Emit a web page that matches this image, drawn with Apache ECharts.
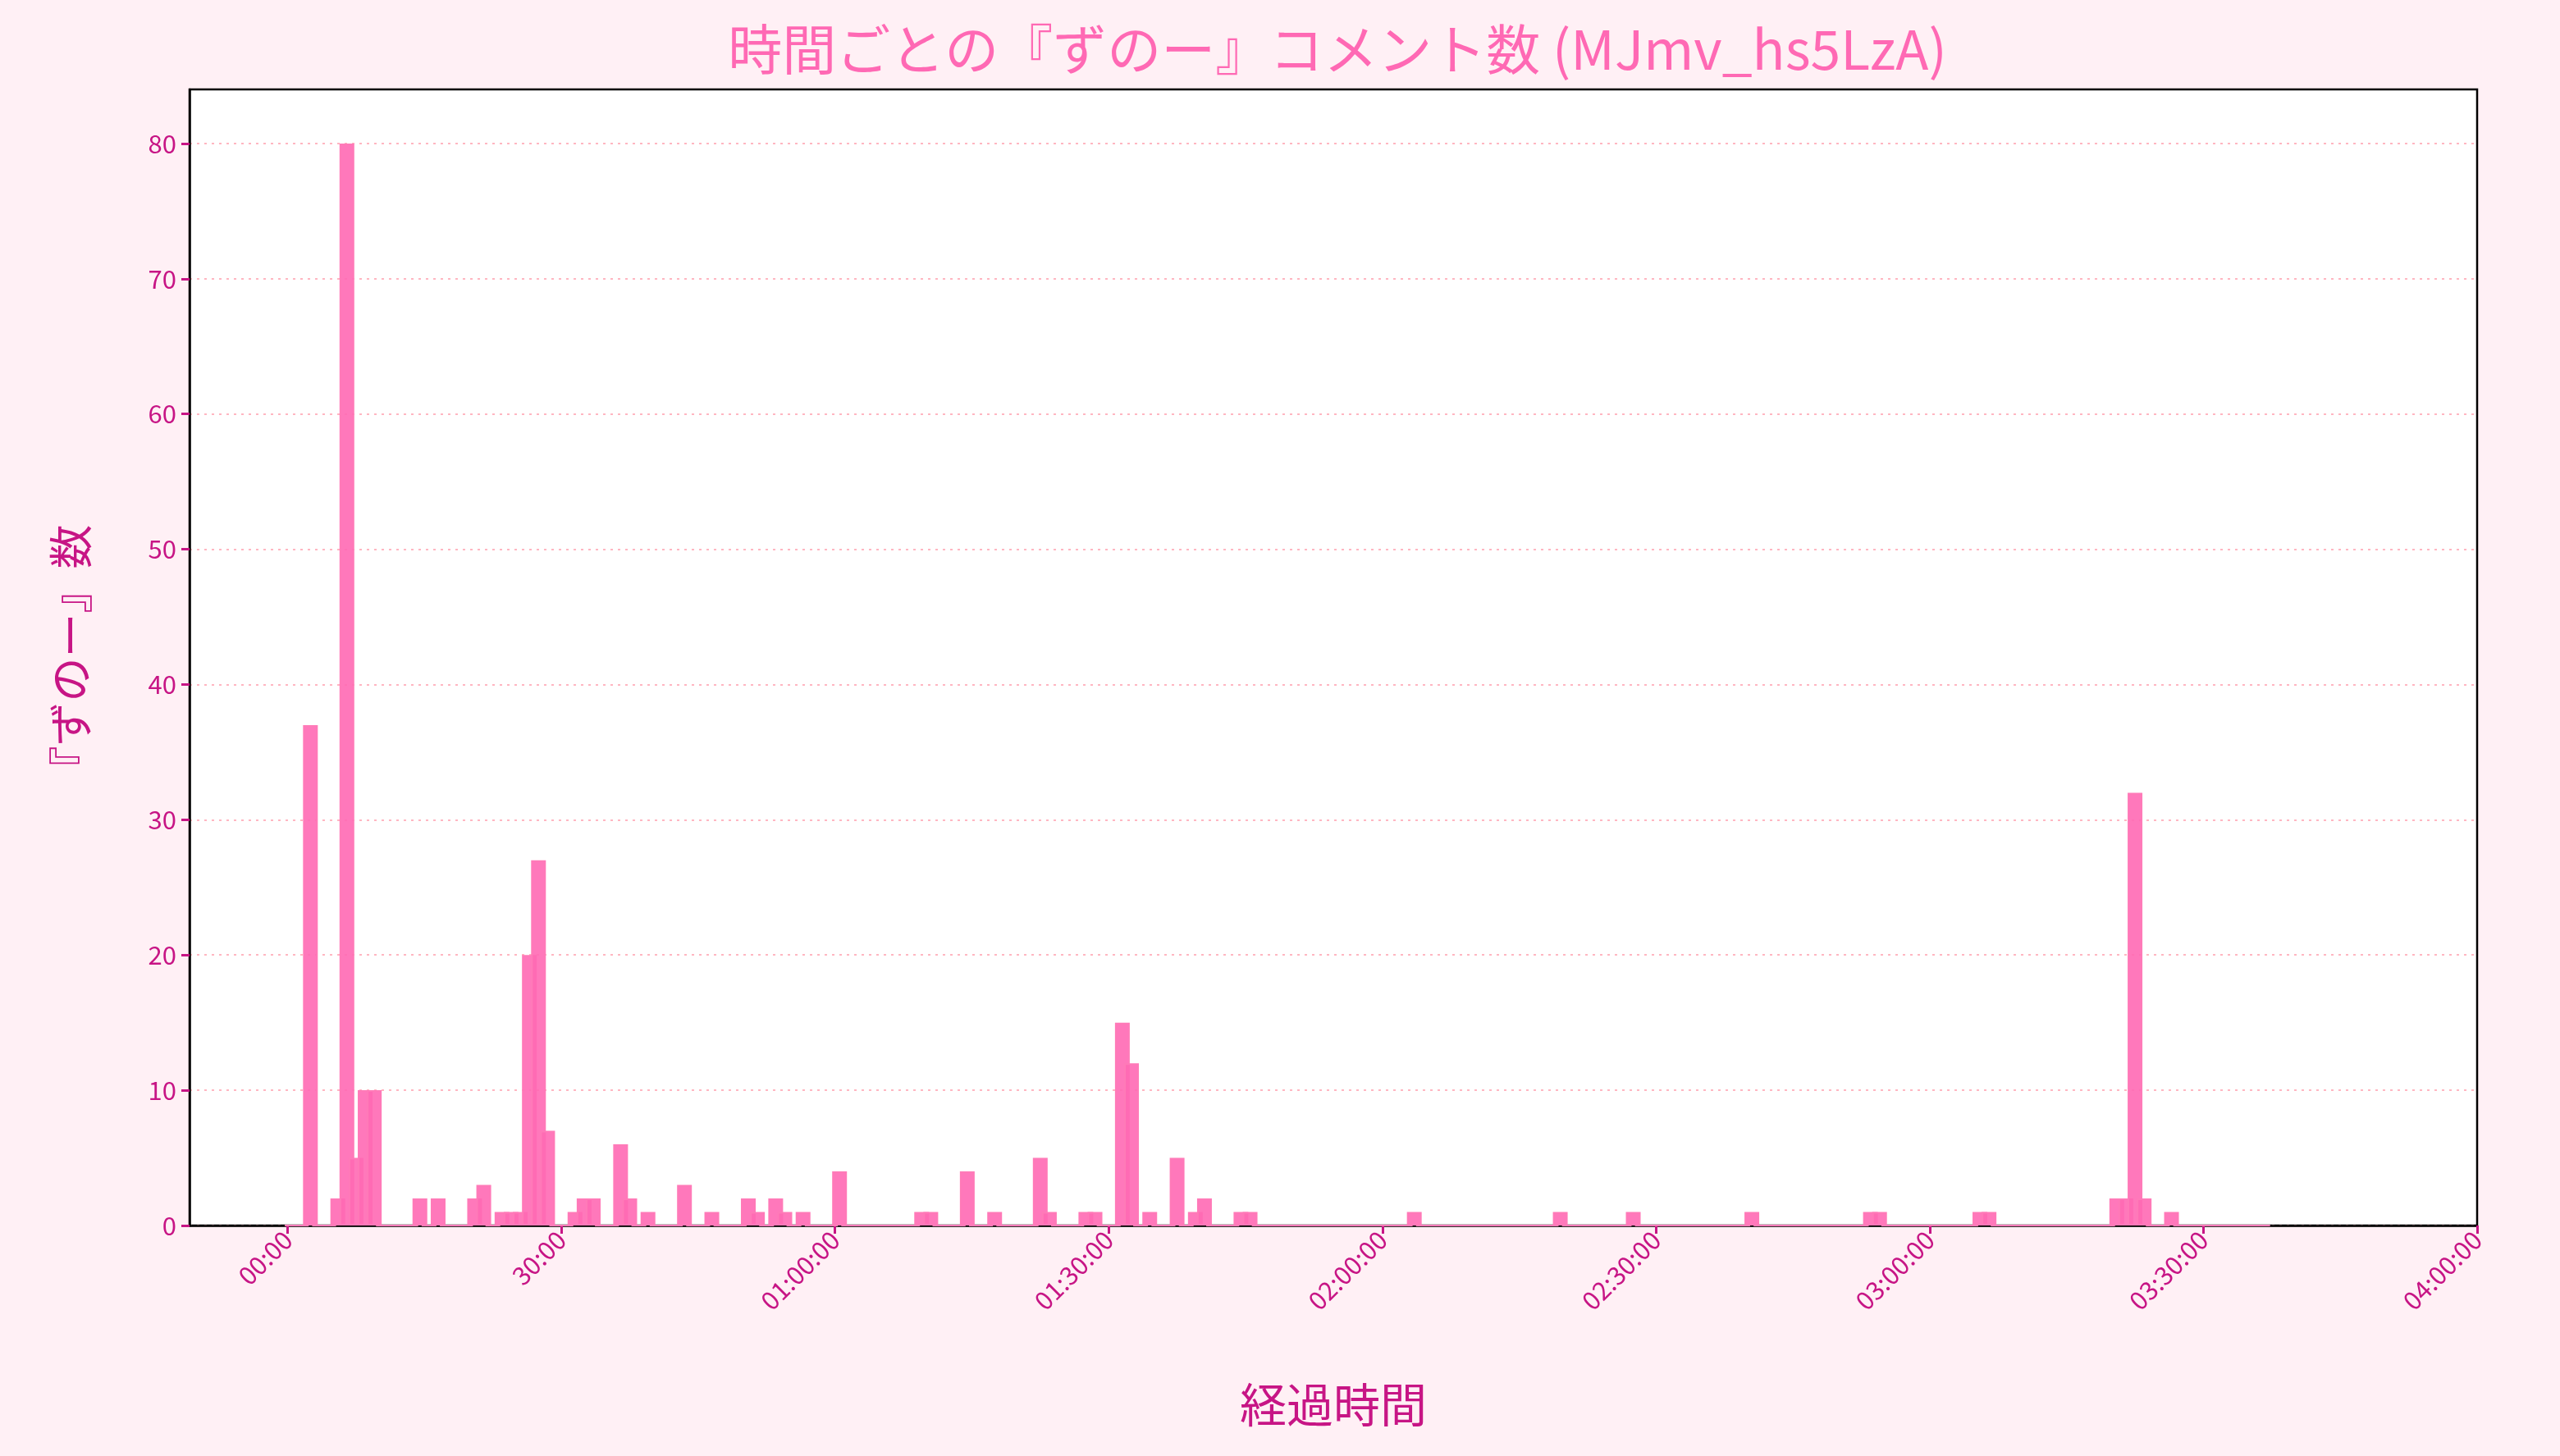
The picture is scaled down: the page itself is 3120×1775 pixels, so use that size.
<!DOCTYPE html>
<html>
<head>
<meta charset="utf-8">
<script src="https://cdn.jsdelivr.net/npm/echarts@6/dist/echarts.min.js"></script>
<style>
  html, body { margin: 0; padding: 0; background: #fff0f5; }
  #chart { width: 3120px; height: 1775px; }
</style>
</head>
<body>
<div id="chart"></div>
<script>
// one value per minute bin, starting at 00:00
const counts = [
  0, 0, 37, 0, 0, 2, 80, 5, 10, 10,
  0, 0, 0, 0, 2, 0, 2, 0, 0, 0,
  2, 3, 0, 1, 1, 1, 20, 27, 7, 0,
  0, 1, 2, 2, 0, 0, 6, 2, 0, 1,
  0, 0, 0, 3, 0, 0, 1, 0, 0, 0,
  2, 1, 0, 2, 1, 0, 1, 0, 0, 0,
  4, 0, 0, 0, 0, 0, 0, 0, 0, 1,
  1, 0, 0, 0, 4, 0, 0, 1, 0, 0,
  0, 0, 5, 1, 0, 0, 0, 1, 1, 0,
  0, 15, 12, 0, 1, 0, 0, 5, 0, 1,
  2, 0, 0, 0, 1, 1, 0, 0, 0, 0,
  0, 0, 0, 0, 0, 0, 0, 0, 0, 0,
  0, 0, 0, 1, 0, 0, 0, 0, 0, 0,
  0, 0, 0, 0, 0, 0, 0, 0, 0, 1,
  0, 0, 0, 0, 0, 0, 0, 1, 0, 0,
  0, 0, 0, 0, 0, 0, 0, 0, 0, 0,
  1, 0, 0, 0, 0, 0, 0, 0, 0, 0,
  0, 0, 0, 1, 1, 0, 0, 0, 0, 0,
  0, 0, 0, 0, 0, 1, 1, 0, 0, 0,
  0, 0, 0, 0, 0, 0, 0, 0, 0, 0,
  2, 2, 32, 2, 0, 0, 1, 0, 0, 0,
  0, 0, 0, 0, 0, 0, 0
]
const xTicks = [0, 30, 60, 90, 120, 150, 180, 210, 240]
const xTickLabels = ['00:00', '30:00', '01:00:00', '01:30:00', '02:00:00', '02:30:00', '03:00:00', '03:30:00', '04:00:00']

const font = '"Noto Sans CJK JP", "Noto Sans", sans-serif'
const labelColor = '#c71585'

const chart = echarts.init(document.getElementById('chart'))
chart.setOption({
  backgroundColor: '#fff0f5',
  animation: false,
  title: {
    text: '時間ごとの『ずのー』コメント数 (MJmv_hs5LzA)',
    left: 1625,
    textAlign: 'center',
    top: 22,
    textStyle: { color: '#ff69b4', fontSize: 66, fontWeight: 'normal', fontFamily: font },
  },
  grid: {
    left: 231, right: 101, top: 109, bottom: 281,
    show: true, backgroundColor: '#ffffff', borderColor: '#000', borderWidth: 2.5,
  },
  xAxis: {
    type: 'value',
    min: -10.75,
    max: 240,
    name: '経過時間',
    nameLocation: 'middle',
    nameGap: 190,
    nameTextStyle: { color: labelColor, fontSize: 57, fontFamily: font },
    axisLine: { show: true, onZero: false, lineStyle: { color: '#000', width: 2.5 } },
    splitLine: { show: false },
    axisTick: { show: true, customValues: xTicks, length: 10, lineStyle: { color: labelColor, width: 3 } },
    axisLabel: {
      customValues: xTicks,
      rotate: 45,
      color: labelColor,
      fontSize: 31,
      fontFamily: font,
      margin: 12,
      formatter: function (v) {
        const i = xTicks.indexOf(Math.round(v))
        return i >= 0 ? xTickLabels[i] : ''
      },
    },
  },
  yAxis: {
    type: 'value',
    min: 0,
    max: 84,
    interval: 10,
    name: '『ずのー』数',
    nameLocation: 'middle',
    nameGap: 118,
    nameTextStyle: { color: labelColor, fontSize: 54, fontFamily: font },
    axisLine: { show: true, onZero: false, lineStyle: { color: '#000', width: 2.5 } },
    axisTick: { show: true, length: 10, lineStyle: { color: labelColor, width: 3 } },
    axisLabel: { color: labelColor, fontSize: 31, fontFamily: font, margin: 16, showMaxLabel: false },
    splitLine: { show: true, showMaxLine: false, lineStyle: { color: '#ffb6c1', type: [3, 6], width: 2 } },
  },
  series: [{
    type: 'bar',
    barWidth: 18,
    data: counts.map((c, i) => [i + 0.5, c]),
    itemStyle: { color: 'rgba(255,105,180,0.9)', borderColor: '#ff7ab8', borderWidth: 2 },
  }],
})
</script>
</body>
</html>
